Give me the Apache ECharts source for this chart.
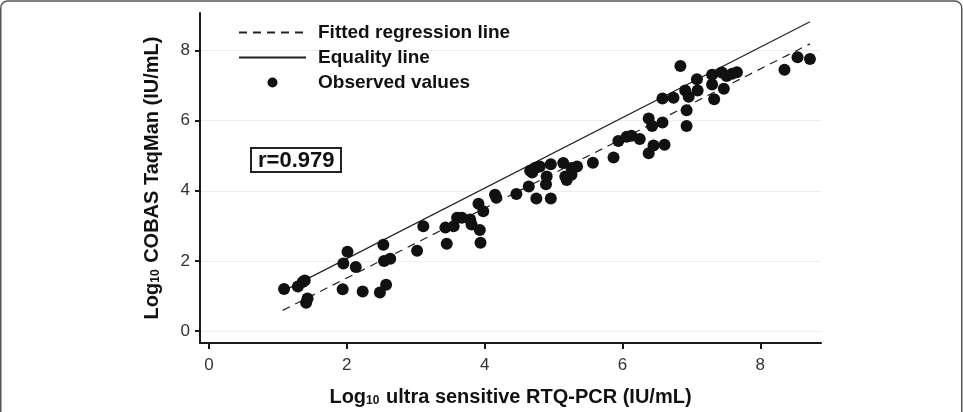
<!DOCTYPE html>
<html>
<head>
<meta charset="utf-8">
<script src="https://cdn.jsdelivr.net/npm/echarts@6/dist/echarts.min.js"></script>
<style>
  html, body { margin: 0; padding: 0; background: #fff; }
  #chart { width: 963px; height: 412px; }
</style>
</head>
<body>
<div id="chart"></div>
<script>
// observed values: [log10 RTQ-PCR, log10 COBAS TaqMan]
const observed = [
  [1.09, 1.20], [1.29, 1.27], [1.39, 1.44], [1.36, 1.40], [1.43, 0.93], [1.41, 0.81],
  [1.94, 1.19], [2.01, 2.26], [1.95, 1.93], [2.13, 1.83], [2.23, 1.13], [2.53, 2.46],
  [2.54, 2.00], [2.63, 2.06], [2.57, 1.32], [2.48, 1.10], [3.02, 2.29], [3.11, 2.99],
  [3.45, 2.49], [3.43, 2.95], [3.55, 2.99], [3.60, 3.23], [3.67, 3.23], [3.79, 3.18],
  [3.81, 3.04], [3.93, 2.88], [3.94, 2.52], [3.91, 3.63], [3.98, 3.42], [4.15, 3.89],
  [4.17, 3.80], [4.46, 3.91], [4.64, 4.12], [4.66, 4.57], [4.73, 4.65], [4.80, 4.69],
  [4.69, 4.52], [4.75, 3.78], [4.90, 4.41], [4.89, 4.19], [4.96, 4.76], [4.96, 3.78],
  [5.14, 4.79], [5.17, 4.41], [5.19, 4.31], [5.26, 4.65], [5.26, 4.46], [5.34, 4.69],
  [5.57, 4.80], [5.87, 4.95], [5.94, 5.42], [6.06, 5.54], [6.13, 5.57], [6.25, 5.48],
  [6.38, 5.07], [6.45, 5.29], [6.61, 5.31], [6.38, 6.06], [6.43, 5.85], [6.58, 5.95],
  [6.58, 6.63], [6.74, 6.65], [6.84, 7.56], [6.91, 6.86], [6.96, 6.68], [6.93, 6.30],
  [6.93, 5.85], [7.08, 7.18], [7.09, 6.86], [7.30, 7.31], [7.30, 7.03], [7.33, 6.61],
  [7.44, 7.37], [7.51, 7.27], [7.59, 7.34], [7.66, 7.38], [7.47, 6.91], [8.35, 7.45],
  [8.54, 7.81], [8.72, 7.76]
];
const fittedLine = [[1.07, 0.59], [8.72, 8.19]];
const equalityLine = [[1.10, 1.16], [8.72, 8.82]];
const tickValues = [0, 2, 4, 6, 8];
const correlation = 'r=0.979';

const chart = echarts.init(document.getElementById('chart'));
const axisDark = '#1a1a1a';
const font = '"Liberation Sans", Arial, sans-serif';

const nameRich = {
  a: { fontSize: 20, fontWeight: 'bold', color: '#111', fontFamily: font },
  s: { fontSize: 12, fontWeight: 'bold', color: '#111', fontFamily: font, padding: [8, 1, 0, 0] }
};

chart.setOption({
  animation: false,
  textStyle: { fontFamily: font },
  grid: { left: 200, top: 13, right: 142, bottom: 66 },
  title: {
    text: correlation,
    left: 251,
    top: 148,
    padding: [2, 7, 0, 7],
    borderWidth: 2,
    borderColor: '#222',
    textStyle: { fontSize: 22, fontWeight: 'bold', color: '#111', fontFamily: font }
  },
  legend: {
    orient: 'vertical',
    left: 238,
    top: 23,
    padding: 0,
    itemWidth: 67,
    itemHeight: 10,
    itemGap: 6,
    textStyle: { fontSize: 19, fontWeight: 'bold', color: '#111', lineHeight: 19, padding: [0, 0, 0, 7] },
    data: [
      { name: 'Fitted regression line', itemStyle: { opacity: 0 } },
      { name: 'Equality line', itemStyle: { opacity: 0 } },
      { name: 'Observed values' }
    ]
  },
  xAxis: {
    type: 'value',
    min: -0.13,
    max: 8.88,
    name: '{a|Log}{s|10}{a| ultra sensitive RTQ-PCR (IU/mL)}',
    nameLocation: 'middle',
    nameGap: 44,
    nameTextStyle: { rich: nameRich },
    axisLine: { onZero: false, lineStyle: { color: axisDark, width: 2 } },
    axisTick: { customValues: tickValues, length: 6, lineStyle: { color: axisDark, width: 2 } },
    axisLabel: { customValues: tickValues, fontSize: 17, color: '#333', margin: 14 },
    splitLine: { show: false }
  },
  yAxis: {
    type: 'value',
    min: -0.34,
    max: 9.07,
    name: '{a|Log}{s|10}{a| COBAS TaqMan (IU/mL)}',
    nameLocation: 'middle',
    nameGap: 38,
    nameTextStyle: { rich: nameRich },
    axisLine: { show: true, onZero: false, lineStyle: { color: axisDark, width: 2 } },
    axisTick: { show: true, customValues: tickValues, length: 5, lineStyle: { color: axisDark, width: 2 } },
    axisLabel: { customValues: tickValues, fontSize: 17, color: '#333', margin: 10 },
    splitLine: { show: true, lineStyle: { color: '#eeeeee', width: 1 } }
  },
  graphic: [
    {
      type: 'rect',
      silent: true,
      shape: { x: 0.75, y: 1, width: 961, height: 440, r: 7 },
      style: { fill: 'none', stroke: '#555', lineWidth: 1.5 }
    }
  ],
  series: [
    {
      name: 'Fitted regression line',
      type: 'line',
      data: fittedLine,
      symbol: 'none',
      color: '#222',
      lineStyle: { color: '#222', width: 1.2, type: [8, 6] },
      z: 3
    },
    {
      name: 'Equality line',
      type: 'line',
      data: equalityLine,
      symbol: 'none',
      color: '#222',
      lineStyle: { color: '#222', width: 1.2 },
      z: 3
    },
    {
      name: 'Observed values',
      type: 'scatter',
      data: observed,
      symbol: 'circle',
      symbolSize: 12,
      itemStyle: { color: '#111', opacity: 1 },
      z: 4
    }
  ]
});
</script>
</body>
</html>
